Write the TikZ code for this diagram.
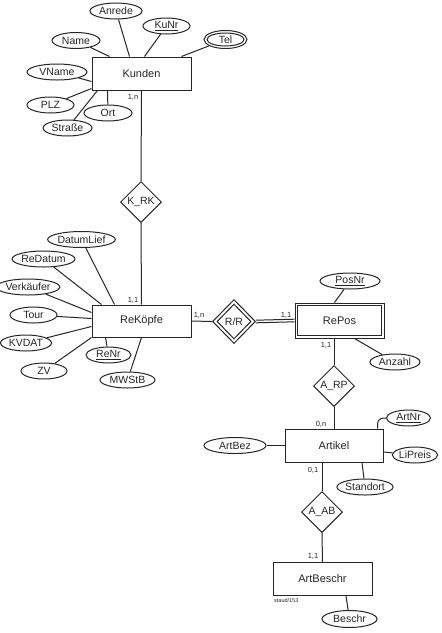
\documentclass[tikz,border=0pt]{standalone}
\usepackage{fontspec}
\setmainfont{Liberation Sans}
\usetikzlibrary{shapes.geometric}
\definecolor{ink}{rgb}{0.15,0.15,0.15}
\tikzset{
  ent/.style={draw=ink, fill=white, line width=1pt, minimum width=99pt, minimum height=33pt, inner sep=0pt, font=\fontsize{11}{13}\selectfont, text=ink},
  attr/.style={draw=ink, ellipse, fill=white, line width=1pt, minimum height=16pt, inner sep=0pt, font=\fontsize{10.5}{12}\selectfont, text=ink},
  rel/.style={draw=ink, diamond, fill=white, line width=1pt, minimum width=41pt, minimum height=41pt, inner sep=0pt, font=\fontsize{10.5}{12}\selectfont, text=ink},
  inner/.style={draw=ink, line width=1pt, inner sep=0pt},
  card/.style={font=\fontsize{7.5}{9}\selectfont, text=ink, inner sep=0pt},
  conn/.style={draw=ink, line width=1pt},
}
\begin{document}
\begin{tikzpicture}[x=1pt, y=-1pt]
\useasboundingbox (0,0) rectangle (442,633);

% Entities
\node[ent] (Kunden) at (141.5,73.5) {Kunden};
\node[ent, minimum height=32pt] (ReKoepfe) at (141.5,321) {ReKöpfe};
\node[ent, minimum width=89pt, minimum height=35pt] (RePos) at (339.5,320.5) {RePos};
\draw[conn] ([xshift=2.6pt,yshift=-2.6pt]RePos.north west) rectangle ([xshift=-2.6pt,yshift=2.6pt]RePos.south east);
\node[ent, minimum width=98pt] (Artikel) at (334,445.5) {Artikel};
\node[ent] (ArtBeschr) at (322.5,579) {ArtBeschr};

% Relationships
\node[rel] (KRK) at (141,202) {K\_RK};
\node[rel, minimum width=43pt, minimum height=44pt] (RR) at (234,321.5) {};
\node[rel, minimum width=34pt, minimum height=35pt] (RRin) at (RR.center) {R/R};
\node[rel] (ARP) at (334,386) {A\_RP};
\node[rel] (AAB) at (322,512) {A\_AB};

% Kunden attributes
\node[attr, minimum width=52pt] (Anrede) at (116,11) {Anrede};
\node[attr, minimum width=47pt] (KuNr) at (166.5,26) {\underline{KuNr}};
\node[attr, minimum width=43pt, minimum height=18pt] (Tel) at (225.5,39.5) {};
\node[attr, minimum width=37pt, minimum height=13pt] (Telin) at (Tel.center) {Tel};
\node[attr, minimum width=48pt] (Name) at (76,40.5) {Name};
\node[attr, minimum width=60pt] (VName) at (57,72) {VName};
\node[attr, minimum width=47pt] (PLZ) at (50.5,105) {PLZ};
\node[attr, minimum width=48pt] (Ort) at (108,113) {Ort};
\node[attr, minimum width=49pt] (Strasse) at (67.5,128) {Straße};

% ReKoepfe attributes
\node[attr, minimum width=67pt] (DatumLief) at (81.5,239.5) {DatumLief};
\node[attr, minimum width=63pt] (ReDatum) at (43.5,259) {ReDatum};
\node[attr, minimum width=54pt] (Verkaeufer) at (28,287) {Verkäufer};
\node[attr, minimum width=47pt] (Tour) at (33.5,315) {Tour};
\node[attr, minimum width=51pt] (KVDAT) at (26,343) {KVDAT};
\node[attr, minimum width=46pt] (ZV) at (44,371) {ZV};
\node[attr, minimum width=45pt] (ReNr) at (108.5,355) {\underline{ReNr}};
\node[attr, minimum width=55pt] (MWStB) at (127.5,380) {MWStB};

% RePos attributes
\node[attr, minimum width=60pt] (PosNr) at (350,281) {\underline{PosNr}};
\node[attr, minimum width=50pt] (Anzahl) at (395,362) {Anzahl};

% Artikel attributes
\node[attr, minimum width=62pt] (ArtBez) at (235,445.5) {ArtBez};
\node[attr, minimum width=44pt] (ArtNr) at (408.5,418) {\underline{ArtNr}};
\node[attr, minimum width=44pt] (LiPreis) at (415,455) {LiPreis};
\node[attr, minimum width=56pt] (Standort) at (365,487) {Standort};

% ArtBeschr attribute
\node[attr, minimum width=55pt, minimum height=17pt] (Beschr) at (349.5,619) {Beschr};

% Cardinalities
\node[card] (c1) at (133,97) {1,n};
\node[card] (c2) at (133,300) {1,1};
\node[card] (c3) at (199,315) {1,n};
\node[card] (c4) at (286,315) {1,1};
\node[card] (c5) at (326,345) {1,1};
\node[card] (c6) at (321,424) {0,n};
\node[card] (c7) at (313,470) {0,1};
\node[card] (c8) at (313,556) {1,1};
\node[card, font=\fontsize{5.5}{6}\selectfont, anchor=west] (staud) at (274,600.5) {staud/153};

% Kunden connectors
\draw[conn] (Anrede) -- ([xshift=38pt]Kunden.north west);
\draw[conn] (KuNr) -- ([xshift=53pt]Kunden.north west);
\draw[conn] (Tel) -- ([xshift=90pt]Kunden.north west);
\draw[conn] (Name) -- ([xshift=18pt]Kunden.north west);
\draw[conn] (VName) -- ([yshift=-25pt]Kunden.north west);
\draw[conn] (PLZ) -- ([yshift=2pt]Kunden.south west);
\draw[conn] (Strasse) -- ([xshift=6pt]Kunden.south west);
\draw[conn] (Ort) -- ([xshift=16pt]Kunden.south west);
\draw[conn] (Kunden.south) -- (KRK.north);
\draw[conn] (KRK.south) -- (ReKoepfe.north);

% ReKoepfe connectors
\draw[conn] (DatumLief) -- ([xshift=23pt]ReKoepfe.north west);
\draw[conn] (ReDatum) -- ([xshift=10pt]ReKoepfe.north west);
\draw[conn] (Verkaeufer) -- ([yshift=-8pt]ReKoepfe.north west);
\draw[conn] (Tour) -- ([yshift=-14pt]ReKoepfe.north west);
\draw[conn] (KVDAT) -- ([yshift=-22pt]ReKoepfe.north west);
\draw[conn] (ZV) -- (ReKoepfe.south west);
\draw[conn] (ReNr) -- ([xshift=14pt]ReKoepfe.south west);
\draw[conn] (MWStB) -- (ReKoepfe.south);
\draw[conn] (ReKoepfe.east) -- (RR.west);
\draw[conn] ([yshift=1.3pt]RR.east) -- ([yshift=1.3pt]RePos.west);
\draw[conn] ([yshift=-1.3pt]RR.east) -- ([yshift=-1.3pt]RePos.west);

% RePos connectors
\draw[conn] (PosNr) -- ([xshift=-5pt]RePos.north);
\draw[conn] (Anzahl) -- ([xshift=60pt]RePos.south west);
\draw[conn] (ARP.north) -- (ARP.north |- RePos.south);
\draw[conn] (ARP.south) -- (Artikel.north);

% Artikel connectors
\draw[conn] (ArtBez) -- (Artikel.west);
\draw[conn] (ArtNr.west) .. controls +(-9,0) and +(0,-7) .. ([xshift=-6pt]Artikel.north east);
\draw[conn] (LiPreis) -- ([yshift=-6.5pt]Artikel.east);
\draw[conn] (Standort) -- ([xshift=28pt]Artikel.south);
\draw[conn] (AAB.north) -- (AAB.north |- Artikel.south);
\draw[conn] (AAB.south) -- (ArtBeschr.north);

% ArtBeschr connector
\draw[conn] (Beschr) -- ([xshift=23.5pt]ArtBeschr.south);
\end{tikzpicture}
\end{document}
